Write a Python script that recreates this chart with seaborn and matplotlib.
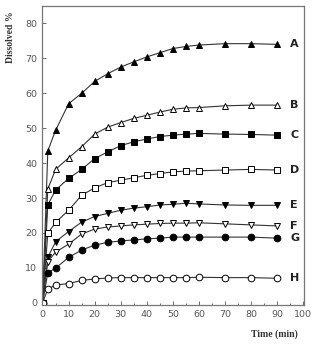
import matplotlib
matplotlib.use("Agg")
import matplotlib.pyplot as plt
import seaborn as sns
import pandas as pd
from matplotlib.ticker import MultipleLocator

time = [0, 2, 5, 10, 15, 20, 25, 30, 35, 40, 45, 50, 55, 60, 70, 80, 90]
A = [0, 43.5, 49.4, 57.0, 60.0, 63.4, 65.6, 67.5, 69.0, 70.4, 71.6, 72.8, 73.4, 73.8, 74.2, 74.2, 74.0]
B = [0, 32.6, 38.2, 41.5, 44.7, 48.3, 50.3, 51.6, 52.8, 53.7, 54.6, 55.4, 55.8, 55.9, 56.4, 56.6, 56.6]
C = [0, 28.0, 32.3, 35.6, 38.2, 41.3, 43.2, 45.0, 46.1, 46.9, 47.6, 48.0, 48.3, 48.5, 48.3, 48.2, 48.0]
D = [0, 19.9, 23.0, 26.5, 30.8, 32.9, 34.4, 35.1, 35.8, 36.5, 37.0, 37.5, 37.7, 37.8, 38.0, 38.2, 38.0]
E = [0, 13.0, 17.5, 20.4, 23.1, 24.7, 25.6, 26.5, 27.1, 27.5, 28.0, 28.2, 28.5, 28.3, 28.0, 27.9, 27.9]
F = [0, 11.8, 14.5, 16.8, 19.7, 21.1, 21.7, 22.0, 22.3, 22.5, 22.7, 22.8, 22.8, 22.9, 22.6, 22.3, 22.0]
G = [0, 8.6, 9.9, 13.0, 15.1, 16.5, 17.3, 17.7, 18.0, 18.3, 18.5, 18.8, 18.8, 18.8, 18.8, 18.8, 18.5]
H = [0, 3.9, 5.1, 5.5, 6.4, 6.8, 7.1, 7.2, 7.2, 7.2, 7.2, 7.2, 7.2, 7.3, 7.2, 7.2, 7.0]

series_names = ["A", "B", "C", "D", "E", "F", "G", "H"]
series_vals = [A, B, C, D, E, F, G, H]
markers = ["^", "^", "s", "s", "v", "v", "o", "o"]
filled = [True, False, True, False, True, False, True, False]

sns.set_style("ticks")
fig = plt.figure(figsize=(3.14, 3.5), dpi=100)
ax = fig.add_axes([0.134, 0.129, 0.834, 0.854])

for name, vals, m, f in zip(series_names, series_vals, markers, filled):
    df = pd.DataFrame({"t": time, "v": vals})
    sns.lineplot(data=df, x="t", y="v", ax=ax, color="#333333", linewidth=0.8,
                 marker=m, markersize=4.5 if m != "o" else 4.8,
                 markerfacecolor=("black" if f else "white"),
                 markeredgecolor="black", markeredgewidth=0.7)
    ax.text(95, vals[-1], name, ha="left", va="center", fontsize=8,
            fontweight="bold", color="#222222", family="DejaVu Sans")

ax.set_xlim(-0.2, 100.3)
ax.set_ylim(-0.6, 85)
ax.xaxis.set_major_locator(MultipleLocator(10))
ax.xaxis.set_minor_locator(MultipleLocator(5))
ax.yaxis.set_major_locator(MultipleLocator(10))
ax.tick_params(axis="both", which="both", direction="in", labelsize=6.8,
               colors="#555555", labelcolor="#555555")
ax.tick_params(which="major", length=3, width=0.6)
ax.tick_params(which="minor", length=1.5, width=0.6)
for s in ax.spines.values():
    s.set_color("#777777")
    s.set_linewidth(0.9)
ax.set_xlabel("")
ax.set_ylabel("")
fig.text(0.035, 0.895, "Dissolved %", rotation=90, ha="center", va="center",
         fontsize=7, fontweight="bold", family="Liberation Serif", color="#333333")
fig.text(0.875, 0.045, "Time (min)", ha="center", va="center",
         fontsize=7, fontweight="bold", family="Liberation Serif", color="#333333")

fig.savefig("out.png", dpi=100)
